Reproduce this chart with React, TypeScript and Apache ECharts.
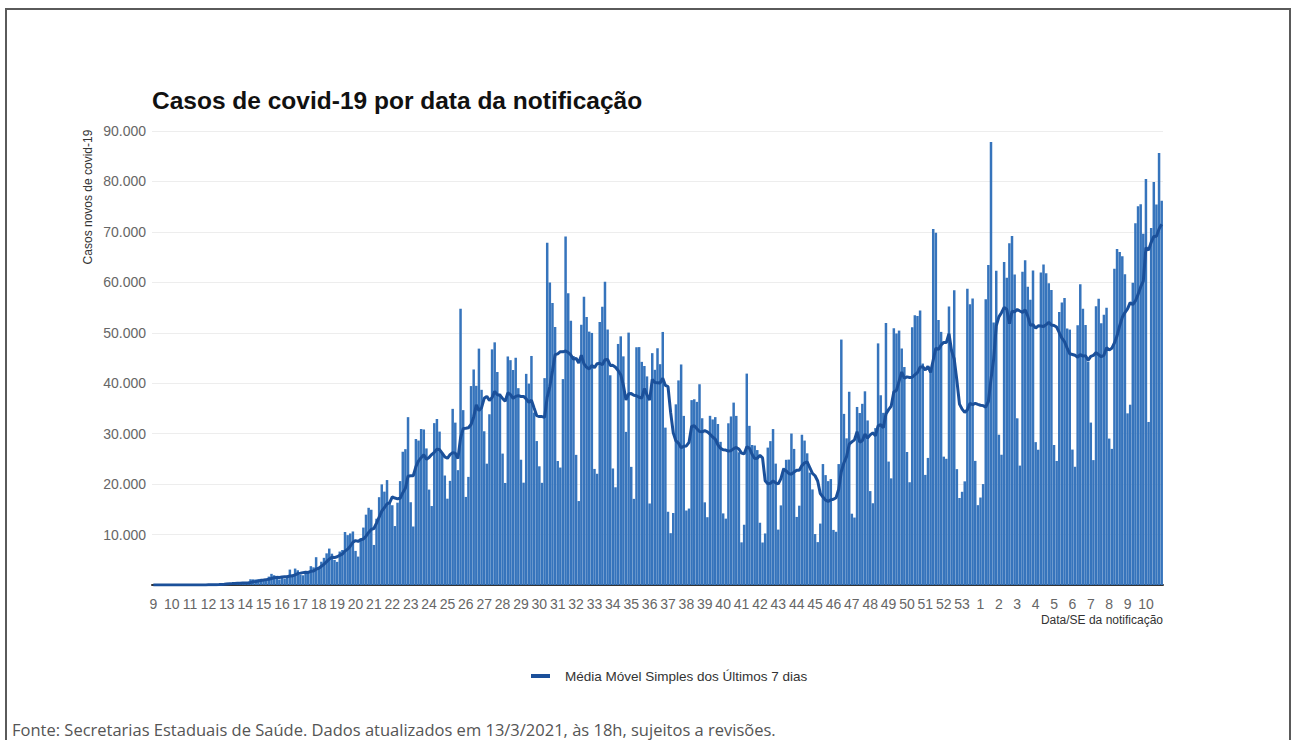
import React, { useEffect, useRef } from "react";
import * as echarts from "echarts";

// Epidemiological week labels (SE), first week of 2020 series = SE 9, last = SE 10/2021
const weekLabels = [
  "9", "10", "11", "12", "13", "14", "15", "16", "17", "18", "19", "20", "21", "22", "23",
  "24", "25", "26", "27", "28", "29", "30", "31", "32", "33", "34", "35", "36", "37", "38",
  "39", "40", "41", "42", "43", "44", "45", "46", "47", "48", "49", "50", "51", "52", "53",
  "1", "2", "3", "4", "5", "6", "7", "8", "9", "10",
];

// Daily new cases by notification date, one line per epidemiological week (Sun..Sat)
const dailyCases = [
  0, 0, 0, 1, 0, 0, 1,
  0, 0, 0, 1, 5, 5, 6,
  6, 9, 9, 18, 25, 21, 23,
  79, 34, 57, 137, 193, 283, 224,
  418, 345, 310, 232, 482, 502, 487,
  352, 323, 1138, 1119, 1074, 1146, 1222,
  852, 926, 1661, 2210, 1930, 1781, 1089,
  1442, 1261, 1832, 3058, 2105, 3257, 2917,
  2055, 1927, 2498, 2678, 3735, 3503, 5514,
  3379, 4613, 5385, 6276, 7218, 6209, 4970,
  4588, 6633, 6935, 10503, 9888, 10222, 10611,
  6760, 5632, 9258, 11385, 13944, 15305, 14919,
  7938, 13140, 17408, 19951, 18508, 20803, 16508,
  15813, 11687, 16324, 20599, 26417, 26928, 33274,
  16409, 11598, 28936, 28633, 30925, 30830, 27075,
  18912, 15654, 32091, 32913, 30412, 25982, 21704,
  17110, 20647, 34918, 32188, 22765, 54771, 34666,
  17459, 21432, 39436, 42725, 39483, 46860, 38693,
  30476, 24052, 33846, 46712, 48105, 42223, 37923,
  26051, 20229, 45305, 44571, 42619, 45048, 39023,
  24831, 20286, 41857, 39924, 45403, 34177, 28532,
  23529, 20257, 41008, 67860, 59961, 55891, 51147,
  24578, 23284, 40816, 69074, 57837, 52383, 45392,
  25800, 16641, 51603, 57152, 53139, 50230, 49970,
  23010, 22048, 52160, 55155, 60091, 50644, 41576,
  23101, 19373, 47784, 49298, 45323, 30355, 50032,
  23421, 17078, 47134, 47161, 44235, 43412, 41350,
  16158, 45961, 42659, 46934, 43773, 50163, 31199,
  14521, 10273, 14279, 35816, 40557, 43718, 33523,
  14768, 15155, 36653, 36820, 36303, 39797, 33057,
  16389, 13439, 33536, 32817, 33281, 31911, 28378,
  14194, 13155, 32058, 33413, 36157, 33523, 26310,
  8456, 11946, 41906, 31553, 27750, 27651, 26749,
  12342, 8426, 10220, 27235, 28523, 30914, 24062,
  10982, 15783, 23227, 24818, 24858, 30026, 26979,
  13493, 15726, 29787, 28629, 26106, 22282, 18947,
  10100, 8501, 12177, 23976, 21787, 20591, 21000,
  10917, 10554, 23973, 48655, 33922, 29070, 38307,
  14134, 13371, 35294, 34091, 35918, 38397, 32622,
  18615, 16207, 31100, 47898, 37614, 34130, 51922,
  24468, 21138, 50909, 49863, 50434, 46884, 43209,
  26363, 20371, 51088, 53453, 53347, 54428, 43900,
  21825, 25193, 42889, 70574, 69826, 52544, 50177,
  25445, 25019, 55202, 46696, 58428, 22967, 17246,
  18479, 20548, 58718, 55649, 56773, 24605, 15827,
  17341, 20006, 56648, 63430, 87843, 52035, 62290,
  29792, 25822, 64025, 60899, 67758, 69198, 61567,
  33040, 23671, 62094, 64385, 59119, 56552, 62334,
  28323, 26816, 61963, 63520, 61811, 59826, 58462,
  27756, 24591, 54096, 56002, 56873, 50872, 50630,
  26845, 23439, 51486, 59602, 54742, 51546, 44299,
  32197, 24759, 55271, 56766, 51879, 53582, 54940,
  29026, 26986, 62715, 66588, 65998, 65169, 61602,
  34027, 35742, 59925, 71704, 75102, 75495, 69609,
  80508, 32321, 70764, 79876, 75412, 85663, 76178,
];

const yTicks = [0, 10000, 20000, 30000, 40000, 50000, 60000, 70000, 80000, 90000];

const titleText = "Casos de covid-19 por data da notificação";
const yAxisTitle = "Casos novos de covid-19";
const xAxisTitle = "Data/SE da notificação";
const maName = "Média Móvel Simples dos Últimos 7 dias";
const sourceText =
  "Fonte: Secretarias Estaduais de Saúde. Dados atualizados em 13/3/2021, às 18h, sujeitos a revisões.";

// 7-day trailing simple moving average (definition of the plotted line)
function movingAverage(values: number[]): number[] {
  return values.map((_, i) => {
    const start = Math.max(0, i - 6);
    let s = 0;
    for (let k = start; k <= i; k++) s += values[k];
    return Math.round(s / 7);
  });
}

const SANS = "'Liberation Sans', Arial, sans-serif";

export default function App() {
  const ref = useRef<HTMLDivElement>(null);

  useEffect(() => {
    if (!ref.current) return;
    const chart = echarts.init(ref.current, undefined, { renderer: "svg" });
    const categories = dailyCases.map((_, i) => String(i));
    const ma = movingAverage(dailyCases);

    chart.setOption({
      animation: false,
      backgroundColor: "#ffffff",
      grid: { left: 152, right: 134, top: 131, bottom: 155, containLabel: false },
      legend: {
        data: [{ name: maName, icon: "rect" }],
        left: 526,
        top: 664,
        itemWidth: 19,
        itemHeight: 4,
        itemGap: 10,
        textStyle: { fontFamily: SANS, fontSize: 13.5, color: "#333", padding: [0, 0, 0, 10] },
      },
      xAxis: {
        type: "category",
        data: categories,
        boundaryGap: true,
        axisLine: { show: true, lineStyle: { color: "#333", width: 2 } },
        axisTick: { show: false },
        axisLabel: {
          interval: (index: number) => index % 7 === 0,
          formatter: (_v: string, index: number) => weekLabels[Math.floor(index / 7)],
          color: "#666",
          fontFamily: SANS,
          fontSize: 14,
          margin: 12,
        },
        splitLine: { show: false },
      },
      yAxis: {
        type: "value",
        min: yTicks[0],
        max: yTicks[yTicks.length - 1],
        interval: 10000,
        axisLine: { show: false },
        axisTick: { show: false },
        axisLabel: {
          formatter: (v: number) => (v === 0 ? "" : v / 1000 + ".000"),
          color: "#666",
          fontFamily: SANS,
          fontSize: 14,
          margin: 6,
        },
        splitLine: { show: true, lineStyle: { color: "#ededed", width: 1 } },
      },
      series: [
        {
          type: "bar",
          name: "Casos",
          data: dailyCases,
          barCategoryGap: "5%",
          itemStyle: { color: "#3674bc" },
          z: 2,
        },
        {
          type: "line",
          name: maName,
          data: ma,
          showSymbol: false,
          symbol: "none",
          lineStyle: { color: "#1b509a", width: 3 },
          itemStyle: { color: "#1b509a" },
          z: 3,
        },
      ],
      graphic: [
        {
          type: "rect",
          shape: { x: 6, y: 9, width: 1284, height: 740 },
          style: { fill: "none", stroke: "#5a5a5a", lineWidth: 2 },
          silent: true,
        },
        {
          type: "text",
          x: 152,
          y: 100,
          style: {
            text: titleText,
            font: "bold 24.5px " + SANS,
            fill: "#111",
            textVerticalAlign: "middle",
          },
        },
        {
          type: "text",
          x: 88,
          y: 197,
          rotation: Math.PI / 2,
          style: {
            text: yAxisTitle,
            font: "12px " + SANS,
            fill: "#333",
            textAlign: "center",
            textVerticalAlign: "middle",
          },
        },
        {
          type: "text",
          x: 1163,
          y: 620,
          style: {
            text: xAxisTitle,
            font: "12px " + SANS,
            fill: "#333",
            textAlign: "right",
            textVerticalAlign: "middle",
          },
        },
        {
          type: "text",
          x: 12,
          y: 729,
          style: {
            text: sourceText,
            font: "16.5px 'Open Sans', 'Noto Sans', sans-serif",
            fill: "#555",
            textVerticalAlign: "middle",
          },
        },
      ],
    });

    return () => chart.dispose();
  }, []);

  return (
    <div
      ref={ref}
      style={{ position: "fixed", left: 0, top: 0, width: 1297, height: 740, background: "#fff" }}
    />
  );
}
